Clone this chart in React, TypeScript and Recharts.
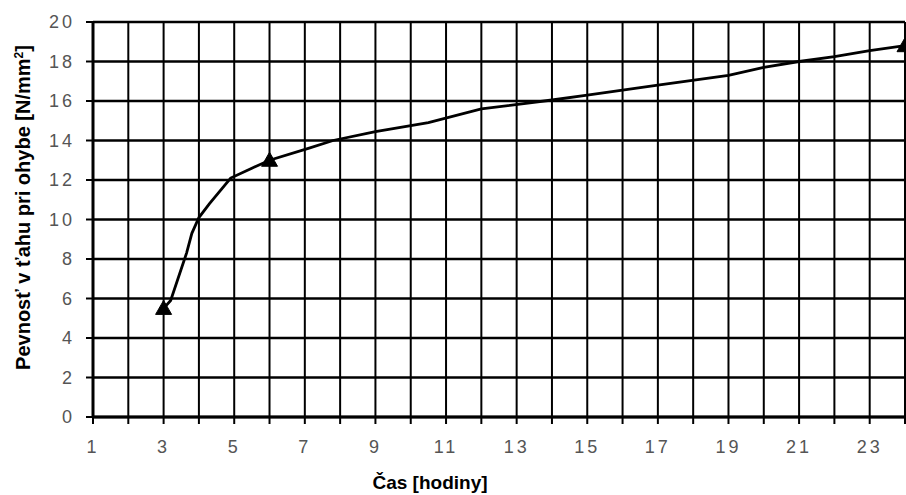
import React from 'react';
import {
  ComposedChart,
  Line,
  Scatter,
  XAxis,
  YAxis,
  CartesianGrid,
} from 'recharts';

// Curve: time [hours] vs flexural tensile strength [N/mm²]
const curveHours = [3, 3.2, 3.65, 3.8, 4.0, 4.3, 4.9, 5.5, 6, 7.1, 7.8, 9, 10.5, 12, 14, 15, 17, 19, 20, 21, 22, 23, 24];
const curveStrength = [5.5, 5.9, 8.3, 9.3, 10.1, 10.8, 12.1, 12.6, 13.0, 13.6, 14.0, 14.45, 14.9, 15.6, 16.05, 16.3, 16.8, 17.3, 17.7, 18.0, 18.25, 18.55, 18.8];

// Measured points (triangle markers)
const markerHours = [3, 6, 24];
const markerStrength = [5.5, 13.0, 18.8];

// Axis ticks
const xTicks = [1, 2, 3, 4, 5, 6, 7, 8, 9, 10, 11, 12, 13, 14, 15, 16, 17, 18, 19, 20, 21, 22, 23, 24];
const yTicks = [0, 2, 4, 6, 8, 10, 12, 14, 16, 18, 20];

const xTitle = 'Čas [hodiny]';
const yTitle = 'Pevnosť v ťahu pri ohybe [N/mm';

const curveData = curveHours.map((x, i) => ({ x, y: curveStrength[i] }));
const markerData = markerHours.map((x, i) => ({ x, y: markerStrength[i] }));

const FONT = '"Liberation Sans", Arial, sans-serif';

const Triangle = (props: any) => {
  const { cx, cy } = props;
  if (cx == null || cy == null) return null;
  return (
    <polygon
      points={`${cx},${cy - 8} ${cx - 8},${cy + 6} ${cx + 8},${cy + 6}`}
      fill="#000"
      stroke="#000"
      strokeWidth={1}
    />
  );
};

const XTitle = (props: any) => {
  const vb = props.viewBox || {};
  return (
    <text
      x={vb.x + vb.width / 2 - 69}
      y={vb.y + 72}
      textAnchor="middle"
      fontFamily={FONT}
      fontWeight="bold"
      fontSize={19}
      fill="#000"
    >
      {xTitle}
    </text>
  );
};

const YTitle = (props: any) => {
  const vb = props.viewBox || {};
  const cx = vb.x + 30;
  const cy = vb.y + vb.height / 2 - 12;
  return (
    <text
      x={cx}
      y={cy}
      transform={`rotate(-90, ${cx}, ${cy})`}
      textAnchor="middle"
      fontFamily={FONT}
      fontWeight="bold"
      fontSize={20}
      fill="#000"
    >
      {yTitle}
      <tspan dy={-7} fontSize={12}>2</tspan>
      <tspan dy={7}>]</tspan>
    </text>
  );
};

const tickStyle = { fill: '#555', fontSize: 18, fontFamily: FONT, letterSpacing: 3 };

export default function App() {
  return (
    <div style={{ position: 'absolute', left: 0, top: 0, width: 906, height: 495, background: '#fff' }}>
      <ComposedChart
        width={906}
        height={495}
        margin={{ top: 22, right: 1, bottom: 0, left: 0 }}
      >
        <CartesianGrid horizontal={true} vertical={false} stroke="#000" strokeWidth={2.6} />
        <CartesianGrid horizontal={false} vertical={true} stroke="#000" strokeWidth={2} />
        <XAxis
          type="number"
          dataKey="x"
          domain={[1, 24]}
          ticks={xTicks}
          interval={0}
          allowDataOverflow
          height={78}
          tickSize={7}
          tickMargin={16}
          tick={tickStyle}
          tickFormatter={(v: number) => (v % 2 === 1 ? String(v) : '')}
          axisLine={{ stroke: '#000', strokeWidth: 3 }}
          tickLine={{ stroke: '#000', strokeWidth: 2 }}
          label={<XTitle />}
        />
        <YAxis
          type="number"
          dataKey="y"
          domain={[0, 20]}
          ticks={yTicks}
          interval={0}
          width={93}
          tickSize={7}
          tickMargin={11}
          tick={tickStyle}
          axisLine={{ stroke: '#000', strokeWidth: 3 }}
          tickLine={{ stroke: '#000', strokeWidth: 2 }}
          label={<YTitle />}
        />
        <Line
          data={curveData}
          dataKey="y"
          type="linear"
          stroke="#000"
          strokeWidth={2.8}
          dot={false}
          activeDot={false}
          isAnimationActive={false}
        />
        <Scatter
          data={markerData}
          dataKey="y"
          shape={<Triangle />}
          isAnimationActive={false}
        />
      </ComposedChart>
    </div>
  );
}
